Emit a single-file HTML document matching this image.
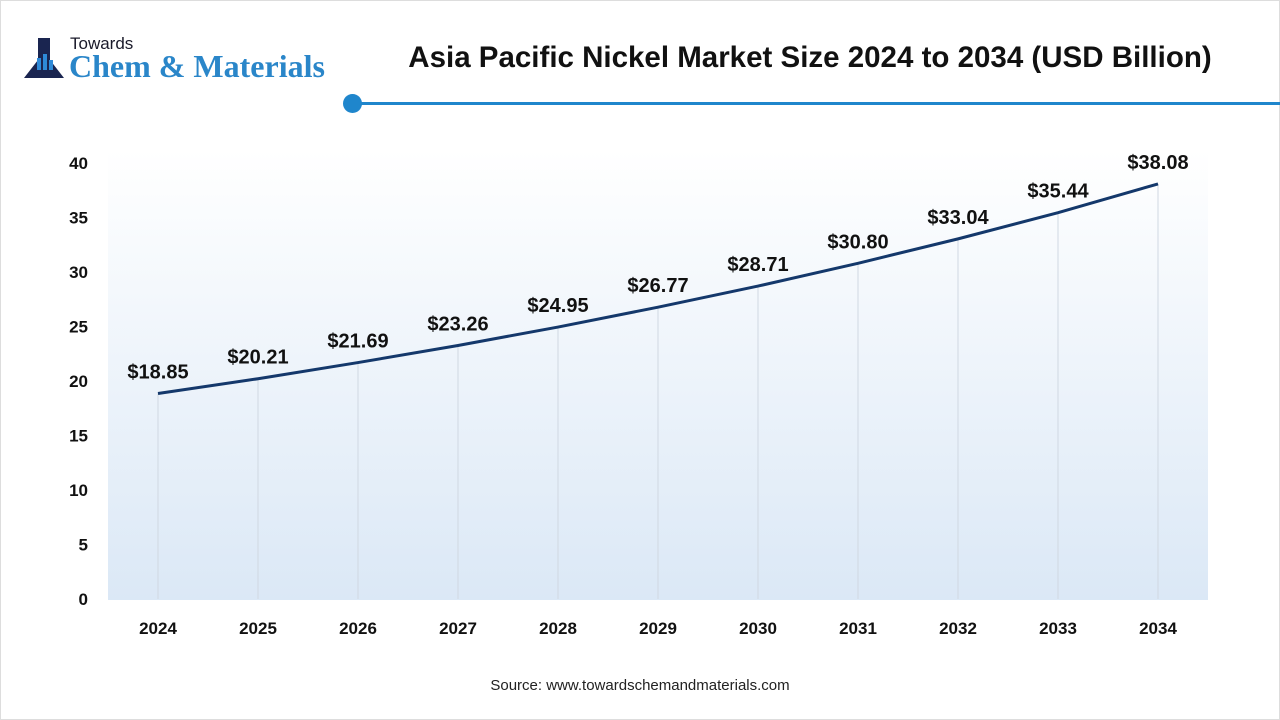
<!DOCTYPE html>
<html><head><meta charset="utf-8"><style>
body{margin:0;width:1280px;height:720px;background:#fff;font-family:"Liberation Sans",sans-serif;position:relative;overflow:hidden}
</style></head><body>
<div style="position:absolute;left:0;top:0;width:1278px;height:718px;border:1px solid #ddd"></div>
<div style="position:absolute;left:24px;top:34px;width:320px;height:50px">
 <svg width="44" height="48" style="position:absolute;left:0;top:0">
  <rect x="14" y="4" width="12" height="12" fill="#1a2550"/>
  <path d="M14 16 L26 16 L26 26 L40 44 L0 44 L14 26 Z" fill="#1a2550"/>
  <rect x="13" y="24" width="4" height="12" fill="#2e8ad8"/><rect x="19" y="20" width="4" height="16" fill="#2e8ad8"/><rect x="25" y="26" width="4" height="10" fill="#2e8ad8"/>
 </svg>
 <div style="position:absolute;left:46px;top:0;font-size:17px;color:#1a1a2a">Towards</div>
 <div style="position:absolute;left:45px;top:14px;font-family:'Liberation Serif',serif;font-weight:bold;font-size:32px;color:#2a86c9;white-space:nowrap">Chem &amp; Materials</div>
</div>
<div style="position:absolute;left:360px;top:41px;width:900px;text-align:center;font-weight:bold;font-size:29.5px;color:#111;white-space:nowrap">Asia Pacific Nickel Market Size 2024 to 2034 (USD Billion)</div>
<div style="position:absolute;left:353px;top:102px;width:927px;height:3px;background:#1f86cc"></div>
<div style="position:absolute;left:343px;top:94px;width:19px;height:19px;border-radius:50%;background:#1f86cc"></div>
<svg id="chart" width="1280" height="720" style="position:absolute;left:0;top:0">
 <defs><linearGradient id="bg" x1="0" y1="0" x2="0" y2="1"><stop offset="0" stop-color="#fff"/><stop offset="1" stop-color="#dbe8f6"/></linearGradient></defs>
 <rect x="108" y="150" width="1100" height="450" fill="url(#bg)"/>
 <g id="g"></g>
</svg>
<div style="position:absolute;left:0;top:677px;width:1280px;text-align:center;font-size:15px;color:#222">Source: www.towardschemandmaterials.com</div>
<script>
const years=["2024","2025","2026","2027","2028","2029","2030","2031","2032","2033","2034"];
const values=[18.85,20.21,21.69,23.26,24.95,26.77,28.71,30.80,33.04,35.44,38.08];
const valueLabels=["$18.85","$20.21","$21.69","$23.26","$24.95","$26.77","$28.71","$30.80","$33.04","$35.44","$38.08"];
const yTicks=[0,5,10,15,20,25,30,35,40];
const NS="http://www.w3.org/2000/svg",g=document.getElementById('g');
const x=i=>158+i*100, y=v=>599-v*10.9;
function mk(t,a,txt){const e=document.createElementNS(NS,t);for(const k in a)e.setAttribute(k,a[k]);if(txt!=null)e.textContent=txt;g.appendChild(e);return e;}
yTicks.forEach(v=>{const e=mk('text',{x:88,y:y(v)+6,'text-anchor':'end','font-size':17,'font-weight':'bold',fill:'#111'},v);

});
years.forEach((yr,i)=>{const l=mk('line',{x1:x(i),x2:x(i),y1:y(values[i]),y2:599,stroke:'#d0d8e2','stroke-width':1});


const t=mk('text',{x:x(i),y:634,'text-anchor':'middle','font-size':17,'font-weight':'bold',fill:'#111'},yr);


const v=mk('text',{x:x(i),y:y(values[i])-15,'text-anchor':'middle','font-size':20,'font-weight':'bold',fill:'#111'},valueLabels[i]);

});
const p=mk('polyline',{points:values.map((v,i)=>x(i)+','+y(v)).join(' '),fill:'none',stroke:'#14386b','stroke-width':3});


</script>
</body></html>
